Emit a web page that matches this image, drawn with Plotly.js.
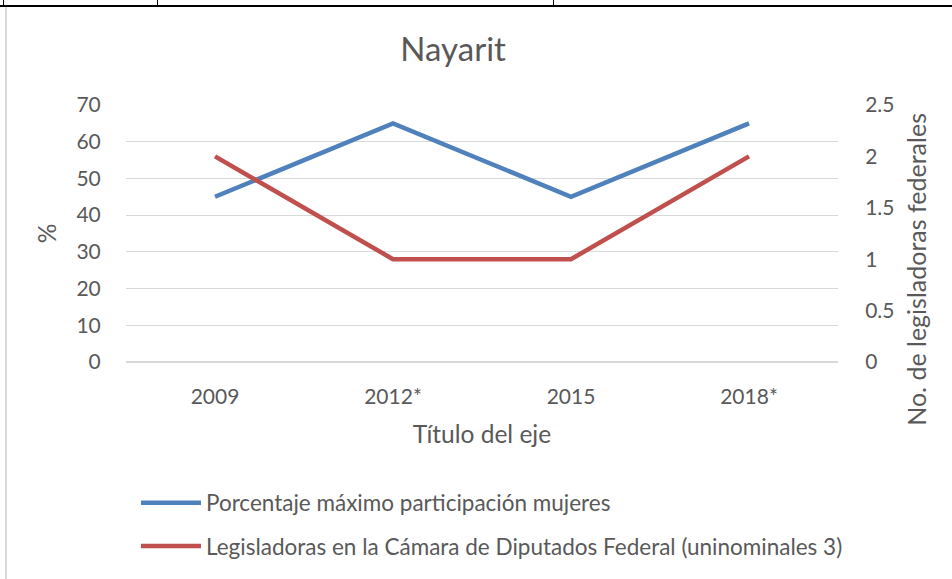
<!DOCTYPE html>
<html>
<head>
<meta charset="utf-8">
<script src="https://cdn.plot.ly/plotly-3.0.1.min.js"></script>
<style>
  html, body { margin: 0; padding: 0; background: #ffffff; }
  #wrap { position: relative; width: 952px; height: 579px; overflow: hidden; }
  #chart { position: absolute; left: 0; top: 0; width: 952px; height: 579px; }
  .rule { position: absolute; pointer-events: none; }
</style>
</head>
<body>
<div id="wrap">
  <div id="chart"></div>
  <div class="rule" style="left:0;top:5px;width:952px;height:2px;background:#000;"></div>
  <div class="rule" style="left:3px;top:0;width:1px;height:6px;background:#000;"></div>
  <div class="rule" style="left:157px;top:0;width:1px;height:6px;background:#000;"></div>
  <div class="rule" style="left:553px;top:0;width:1px;height:6px;background:#000;"></div>
  <div class="rule" style="left:5px;top:7px;width:2px;height:572px;background:#d9d9d9;"></div>
</div>
<script>
const categories = ["2009", "2012*", "2015", "2018*"];
const porcentajeMujeres = [45, 65, 45, 65];
const legisladoras = [2, 1, 1, 2];
const nameBlue = "Porcentaje máximo participación mujeres";
const nameRed = "Legisladoras en la Cámara de Diputados Federal (uninominales 3)";
const chartTitle = "Nayarit";
const xTitle = "Título del eje";
const yTitle = "%";
const y2Title = "No. de legisladoras federales";

const font = "Lato, 'Open Sans', sans-serif";
const grey = "#595959";

const traces = [
  {
    x: categories, y: porcentajeMujeres, name: nameBlue, type: "scatter", mode: "lines",
    line: { color: "#4f81bd", width: 4.5 }, legendgroup: "a", yaxis: "y"
  },
  {
    x: categories, y: legisladoras, name: nameRed, type: "scatter", mode: "lines",
    line: { color: "#c0504d", width: 4.5 }, legendgroup: "b", yaxis: "y2"
  }
];

const layout = {
  width: 952, height: 579,
  margin: { l: 126, r: 114, t: 105, b: 217 },
  paper_bgcolor: "#ffffff", plot_bgcolor: "#ffffff",
  font: { family: font, color: grey, size: 21 },
  title: { text: chartTitle, font: { family: font, size: 33, color: grey }, x: 0.476, xanchor: "center", y: 0.915, yanchor: "middle" },
  showlegend: true,
  legend: {
    x: 0.014, xanchor: "left", y: -0.465, yanchor: "top",
    font: { family: font, size: 22.5, color: grey },
    traceorder: "grouped", tracegroupgap: 11, orientation: "v",
    itemwidth: 60
  },
  xaxis: {
    type: "category", range: [-0.5, 3.5], showgrid: false, zeroline: false, automargin: false,
    showline: false, ticks: "outside", ticklen: 16, tickcolor: "rgba(0,0,0,0)",
    tickfont: { family: font, size: 21, color: grey },
    title: { text: xTitle, font: { family: font, size: 24.5, color: grey }, standoff: 18 }
  },
  yaxis: {
    range: [0, 70], dtick: 10, showgrid: true, gridcolor: "#d9d9d9", gridwidth: 1.2, automargin: false,
    zeroline: true, zerolinecolor: "#d9d9d9", zerolinewidth: 1.2, showline: false,
    ticks: "outside", ticklen: 20, tickcolor: "rgba(0,0,0,0)",
    tickfont: { family: font, size: 21, color: grey },
    title: { text: yTitle, font: { family: font, size: 24.5, color: grey }, standoff: 12 }
  },
  yaxis2: {
    range: [0, 2.5], dtick: 0.5, overlaying: "y", side: "right", showgrid: false, automargin: false,
    zeroline: false, showline: false,
    ticks: "outside", ticklen: 22, tickcolor: "rgba(0,0,0,0)",
    tickfont: { family: font, size: 21, color: grey },
    title: { text: "" }
  },
  annotations: [
    {
      text: y2Title, xref: "paper", yref: "paper", x: 1.11, y: 0.36,
      xanchor: "center", yanchor: "middle", textangle: -90, showarrow: false,
      font: { family: font, size: 25, color: grey }
    }
  ]
};

Plotly.newPlot("chart", traces, layout, { displayModeBar: false, staticPlot: true });
</script>
</body>
</html>
